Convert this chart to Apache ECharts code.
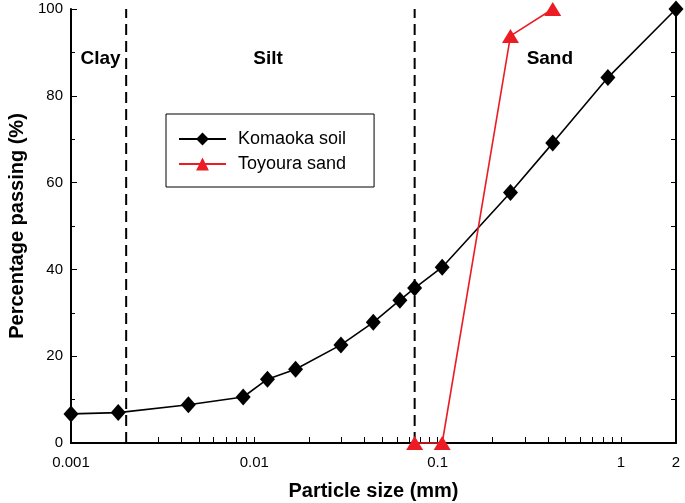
<!DOCTYPE html>
<html lang="en">
<head>
    <meta charset="UTF-8">
    <title>Particle size distribution</title>
    <script src="https://cdn.jsdelivr.net/npm/echarts@6/dist/echarts.min.js"></script>
</head>
<body style="margin:0;background:#fff;">
<div id="main" style="width: 685px;height:503px;"></div>
<script>
    // Komaoka soil (particle size mm / % passing)
    var soilSize = [0.001, 0.00181, 0.00437, 0.0087, 0.0118, 0.0168, 0.0297, 0.0446, 0.0623, 0.075, 0.106, 0.25, 0.425, 0.85, 2];
    var soilPass = [6.7, 7.0, 8.8, 10.6, 14.7, 17.0, 22.6, 27.8, 32.9, 35.7, 40.5, 57.7, 69.1, 84.2, 100];
    // Toyoura sand
    var sandSize = [0.075, 0.106, 0.25, 0.425];
    var sandPass = [0, 0, 93.8, 100];
    // boundaries clay/silt and silt/sand
    var boundaries = [0.002, 0.075];
    var zoneNames = ['Clay', 'Silt', 'Sand'];
    var zoneSize = [0.00145, 0.0119, 0.41];
    var zoneLevel = 88.5;
    var xLabels = [0.001, 0.01, 0.1, 1, 2];
    var xTicks = [0.001, 0.002, 0.003, 0.004, 0.005, 0.006, 0.007, 0.008, 0.009,
        0.01, 0.02, 0.03, 0.04, 0.05, 0.06, 0.07, 0.08, 0.09,
        0.1, 0.2, 0.3, 0.4, 0.5, 0.6, 0.7, 0.8, 0.9, 1, 2];

    function pairs(xs, ys) {
        var out = [];
        for (var i = 0; i < xs.length; i++) out.push([xs[i], ys[i]]);
        return out;
    }

    var font = 'Liberation Sans, Arial, sans-serif';
    var myChart = echarts.init(document.getElementById('main'));

    var series = [
        {
            name: 'Komaoka soil',
            type: 'line',
            data: pairs(soilSize, soilPass),
            symbol: 'diamond',
            symbolSize: [15, 17],
            itemStyle: {color: '#000'},
            lineStyle: {color: '#000', width: 1.6},
            clip: false,
            z: 3,
            markPoint: {
                silent: true,
                symbol: 'rect',
                symbolSize: 0,
                label: {show: true, position: 'inside', fontSize: 19, fontWeight: 'bold', color: '#000',
                    formatter: function (p) { return p.name; }},
                data: zoneNames.map(function (n, i) { return {name: n, coord: [zoneSize[i], zoneLevel]}; })
            }
        },
        {
            name: 'Toyoura sand',
            type: 'line',
            data: pairs(sandSize, sandPass),
            symbol: 'triangle',
            symbolSize: [17, 14],
            itemStyle: {color: '#ec1c24'},
            lineStyle: {color: '#ec1c24', width: 1.6},
            clip: false,
            z: 4
        }
    ];
    // dashed boundary lines
    boundaries.forEach(function (b) {
        series.push({
            name: 'boundary',
            type: 'line',
            data: [[b, 0], [b, 100]],
            symbol: 'none',
            silent: true,
            lineStyle: {color: '#000', width: 2, type: [11, 6]},
            z: 2
        });
    });

    var option = {
        animation: false,
        textStyle: {fontFamily: font},
        grid: {left: 71, right: 9, top: 9, bottom: 60, outerBoundsMode: 'none'},
        legend: {
            data: ['Komaoka soil', 'Toyoura sand'],
            orient: 'vertical',
            left: 166,
            top: 114,
            padding: [16, 28, 14, 12],
            itemGap: 7,
            itemWidth: 47,
            itemHeight: 16,
            borderColor: '#000',
            borderWidth: 1,
            borderRadius: 0,
            textStyle: {fontSize: 18, color: '#000', fontFamily: font, padding: [0, 0, 0, 7]}
        },
        xAxis: [
            {
                type: 'log',
                logBase: 10,
                min: 0.001,
                max: 2,
                name: 'Particle size (mm)',
                nameLocation: 'middle',
                nameGap: 38,
                nameTextStyle: {fontSize: 20, fontWeight: 'bold', color: '#000'},
                axisLine: {lineStyle: {color: '#000', width: 2}},
                axisTick: {inside: true, length: 6, customValues: xTicks, lineStyle: {color: '#000', width: 1}},
                axisLabel: {customValues: xLabels, fontSize: 15, color: '#000', margin: 12,
                    formatter: function (v) { return String(+v.toPrecision(3)); }},
                splitLine: {show: false}
            },
            {
                type: 'log',
                logBase: 10,
                min: 0.001,
                max: 2,
                position: 'top',
                axisLine: {lineStyle: {color: '#000', width: 2}},
                axisTick: {show: false},
                axisLabel: {show: false},
                splitLine: {show: false}
            }
        ],
        yAxis: [
            {
                type: 'value',
                min: 0,
                max: 100,
                interval: 20,
                name: 'Percentage passing (%)',
                nameLocation: 'middle',
                nameGap: 44,
                nameTextStyle: {fontSize: 20, fontWeight: 'bold', color: '#000'},
                axisLine: {show: true, lineStyle: {color: '#000', width: 2}},
                axisTick: {inside: true, length: 6, lineStyle: {color: '#000'}},
                minorTick: {show: true, splitNumber: 2, length: 4, lineStyle: {color: '#000'}},
                axisLabel: {fontSize: 15, color: '#000', margin: 8},
                splitLine: {show: false}
            },
            {
                type: 'value',
                min: 0,
                max: 100,
                interval: 10,
                position: 'right',
                axisLine: {show: true, lineStyle: {color: '#000', width: 2}},
                axisTick: {inside: true, length: 5, lineStyle: {color: '#000'}},
                axisLabel: {show: false},
                splitLine: {show: false}
            }
        ],
        series: series
    };
    myChart.setOption(option);
</script>
</body>
</html>
